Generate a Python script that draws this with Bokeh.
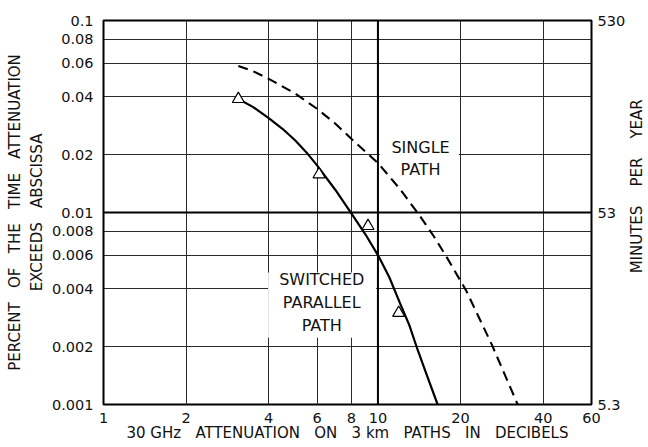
import math
from bokeh.plotting import figure
from bokeh.layouts import row
from bokeh.models import (LogAxis, Range1d, FixedTicker, Span, BoxAnnotation,
                          Label, PrintfTickFormatter, LogScale)
from bokeh.embed import file_html
from bokeh.resources import INLINE

# ---- data ----
x_ticks = [1, 2, 4, 6, 8, 10, 20, 40, 60]
y_ticks = [0.001, 0.002, 0.004, 0.006, 0.008, 0.01, 0.02, 0.04, 0.06, 0.08, 0.1]
right_ticks = [5.3, 53, 530]

switched_x = [3.1, 3.5, 4, 4.5, 5, 5.5, 6, 7, 8, 9, 10, 11, 12, 13, 14, 15, 16.5]
switched_y = [0.039, 0.0355, 0.031, 0.0272, 0.0237, 0.0205, 0.0176, 0.0131,
              0.0099, 0.0077, 0.006, 0.0046, 0.0034, 0.0026, 0.0019, 0.00145, 0.001]

single_x = [3.1, 3.5, 4, 5, 6, 7, 8, 10, 12, 14, 16, 18, 21, 26, 32.3]
single_y = [0.058, 0.0545, 0.0497, 0.0416, 0.0347, 0.029, 0.0242, 0.0181,
            0.0133, 0.0099, 0.0075, 0.0057, 0.0039, 0.00205, 0.001]

measured_x = [3.1, 6.1, 9.2, 11.9]
measured_y = [0.039, 0.0158, 0.0085, 0.003]

x_title = ["30 GHz", "ATTENUATION", "ON", "3 km", "PATHS", "IN", "DECIBELS"]
y_title_1 = ["PERCENT", "OF", "THE", "TIME", "ATTENUATION"]
y_title_2 = ["EXCEEDS", "ABSCISSA"]
right_title = ["MINUTES", "PER", "YEAR"]

FONT = "DejaVu Sans"
INK = "#111111"
SP3 = "\u00a0\u00a0\u00a0"
SP4 = "\u00a0\u00a0\u00a0\u00a0"

W_MAIN, W_SIDE, H = 628, 20, 447

p = figure(width=W_MAIN, height=H, x_axis_type="log", y_axis_type="log",
           x_range=Range1d(1, 60), y_range=Range1d(0.001, 0.1),
           output_backend="svg", toolbar_location=None,
           min_border_left=103, min_border_right=33,
           min_border_top=20, min_border_bottom=43)
p.background_fill_color = "white"
p.border_fill_color = "white"
p.outline_line_color = "black"
p.outline_line_width = 2

# grids
p.xgrid.ticker = FixedTicker(ticks=x_ticks)
p.ygrid.ticker = FixedTicker(ticks=y_ticks)
for g in (p.xgrid, p.ygrid):
    g.grid_line_color = "#2a2a2a"
    g.grid_line_width = 1
    g.minor_grid_line_color = None

# white boxes behind the curve labels
p.add_layout(BoxAnnotation(left=3.98, right=9.85, bottom=0.00223, top=0.00487,
                           fill_color="white", fill_alpha=1, line_color=None,
                           level="underlay"))
p.add_layout(BoxAnnotation(left=10.15, right=19.7, bottom=0.0155, top=0.025,
                           fill_color="white", fill_alpha=1, line_color=None,
                           level="underlay"))

# heavy reference lines
p.add_layout(Span(location=10, dimension="height", line_color="black", line_width=2))
p.add_layout(Span(location=0.01, dimension="width", line_color="black", line_width=2))

# axes
xa = p.xaxis[0]
ya = p.yaxis[0]
xa.ticker = FixedTicker(ticks=x_ticks)
ya.ticker = FixedTicker(ticks=y_ticks)
xa.formatter = PrintfTickFormatter(format="%g")
ya.formatter = PrintfTickFormatter(format="%g")
xa.axis_label = SP3.join(x_title)
ya.axis_label = SP3.join(y_title_1) + "\n" + SP3.join(y_title_2)

p.extra_y_ranges = {"min": Range1d(5.3, 530)}
p.extra_y_scales = {"min": LogScale()}
ra = LogAxis(y_range_name="min")
ra.ticker = FixedTicker(ticks=right_ticks)
ra.formatter = PrintfTickFormatter(format="%g")
p.add_layout(ra, "right")

for ax in (xa, ya, ra):
    ax.axis_line_color = None
    ax.major_tick_line_color = None
    ax.minor_tick_line_color = None
    ax.major_tick_out = 0
    ax.major_tick_in = 0
    ax.minor_tick_out = 0
    ax.minor_tick_in = 0
    ax.major_label_text_font = FONT
    ax.major_label_text_font_size = "14.5px"
    ax.major_label_text_color = INK
    ax.axis_label_text_font = FONT
    ax.axis_label_text_font_size = "15px"
    ax.axis_label_text_font_style = "normal"
    ax.axis_label_text_color = INK
xa.major_label_standoff = 8
xa.axis_label_standoff = -2
ya.major_label_standoff = 10
ya.axis_label_standoff = 3
ra.major_label_standoff = 6

# curves
p.line(switched_x, switched_y, line_color="black", line_width=2.2)
p.line(single_x, single_y, line_color="black", line_width=2.1, line_dash="10 6")
p.scatter(measured_x, measured_y, marker="triangle", size=12,
          fill_color="white", line_color="black", line_width=1.2)

# curve labels
lab = dict(text_align="center", text_baseline="middle",
           text_font=FONT, text_color=INK, text_font_size="16px")
p.add_layout(Label(x=6.24, y=0.0034, text="SWITCHED\nPARALLEL\nPATH", **lab))
p.add_layout(Label(x=14.3, y=0.0191, text="SINGLE\nPATH", **lab))

# right-hand title strip (reads bottom to top)
side = figure(width=W_SIDE, height=H, x_range=Range1d(0, W_SIDE), y_range=Range1d(0, H),
              output_backend="svg", toolbar_location=None,
              min_border=0, min_border_left=0, min_border_right=0,
              min_border_top=0, min_border_bottom=0)
side.axis.visible = False
side.grid.visible = False
side.outline_line_color = None
side.background_fill_color = "white"
side.border_fill_color = "white"
title_cx = 636 - W_MAIN          # centre of title, px from strip's left edge
title_cy = H - 193               # centre of title, px from strip's bottom
side.add_layout(Label(x=title_cx, y=title_cy, text=SP4.join(right_title),
                      angle=math.pi / 2, text_align="center", text_baseline="middle",
                      text_font=FONT, text_color=INK, text_font_size="15px"))

layout = row(p, side, spacing=0)
open("out.html", "w").write(file_html(layout, INLINE))
